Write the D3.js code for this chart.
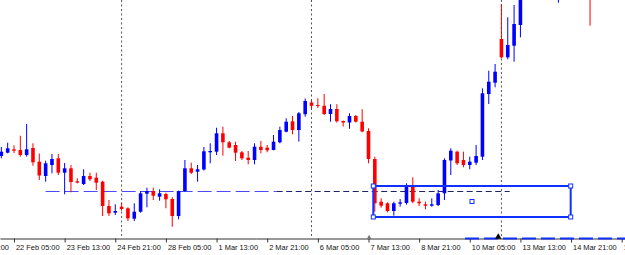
<!DOCTYPE html>
<html><head><meta charset="utf-8">
<script src="https://cdn.jsdelivr.net/npm/d3@7"></script>
<style>html,body{margin:0;padding:0;background:#fff;overflow:hidden}svg{display:block}</style>
</head><body><svg id="c" width="625" height="255"></svg>
<script>
// ---- Data (XAUUSD H4, Feb-Mar 2023) ----
const barIndex = [-2,-1,0,1,2,3,4,5,6,7,8,9,10,11,12,13,14,15,16,17,18,19,20,21,22,23,24,25,26,27,28,29,30,31,32,33,34,35,36,37,38,39,40,41,42,43,44,45,46,47,48,49,50,51,52,53,54,55,56,57,58,59,60,61,62,63,64,65,66,67,68,69,70,71,72,73,74,75,76,77,78,79,80,86,91];
const open  = [1832.24,1833.76,1835.32,1835.00,1832.70,1835.92,1829.62,1823.04,1828.10,1831.18,1824.56,1826.58,1820.60,1819.36,1823.04,1822.26,1820.42,1809.24,1806.16,1808.92,1808.18,1803.40,1806.62,1814.90,1816.14,1813.52,1814.76,1812.46,1804.64,1816.14,1826.58,1825.02,1826.03,1833.94,1834.22,1842.68,1838.54,1837.30,1833.94,1831.46,1830.40,1836.52,1836.06,1835.00,1838.54,1843.42,1848.20,1844.20,1851.47,1856.85,1855.70,1855.33,1851.56,1853.86,1848.34,1847.65,1850.64,1848.02,1843.74,1830.86,1811.22,1810.48,1806.94,1810.30,1810.62,1818.44,1811.22,1810.02,1809.38,1809.70,1815.08,1830.17,1834.22,1830.40,1828.10,1829.16,1831.92,1860.76,1865.96,1886.06,1877.64,1882.98,1892.50,1906.00,1912.00];
const high  = [1836.38,1838.36,1837.16,1841.58,1846.96,1838.08,1833.39,1830.08,1833.16,1833.16,1829.02,1828.10,1821.98,1826.12,1824.56,1824.56,1820.88,1812.00,1810.02,1810.76,1808.64,1810.48,1816.14,1817.66,1817.66,1816.92,1815.36,1813.24,1816.30,1830.40,1829.16,1828.10,1836.38,1838.08,1845.26,1845.72,1839.14,1838.82,1834.54,1834.54,1838.08,1839.14,1837.30,1841.90,1845.72,1849.58,1850.64,1852.48,1858.69,1858.00,1858.78,1860.76,1856.07,1856.07,1848.57,1851.88,1851.10,1853.77,1844.98,1831.92,1812.78,1810.94,1811.22,1812.46,1819.68,1822.44,1812.78,1811.22,1812.78,1816.60,1831.18,1835.78,1834.68,1834.22,1831.92,1837.30,1863.38,1871.48,1874.56,1902.16,1896.04,1901.70,1912.00,1914.00,1914.00];
const low   = [1831.18,1833.48,1833.62,1831.92,1831.92,1827.78,1821.20,1820.42,1824.28,1823.50,1814.62,1815.54,1819.68,1818.90,1820.74,1816.60,1804.64,1804.64,1805.10,1807.08,1802.34,1802.34,1806.16,1808.64,1812.00,1811.68,1808.18,1799.72,1803.12,1815.82,1823.96,1820.42,1825.57,1828.88,1832.70,1832.38,1835.78,1829.94,1830.40,1828.42,1828.42,1833.48,1833.94,1834.86,1838.08,1843.14,1842.22,1838.82,1850.32,1853.86,1854.32,1851.10,1848.02,1847.65,1845.81,1844.75,1847.65,1843.14,1828.88,1806.62,1808.46,1806.34,1804.78,1808.92,1809.84,1810.48,1809.24,1807.72,1808.92,1809.24,1812.00,1823.50,1828.10,1827.04,1826.12,1828.10,1830.40,1856.16,1863.84,1877.18,1876.72,1875.62,1886.84,1902.76,1892.18];
const close = [1834.22,1835.78,1834.68,1832.70,1835.32,1829.34,1823.27,1828.88,1830.86,1824.56,1826.58,1820.28,1819.96,1823.04,1821.52,1819.96,1809.24,1805.88,1806.94,1807.86,1803.58,1806.62,1815.08,1816.14,1813.98,1815.08,1812.32,1804.64,1816.14,1826.58,1824.56,1826.12,1834.40,1834.54,1842.68,1838.54,1836.06,1833.76,1831.18,1830.40,1836.52,1835.00,1834.86,1838.82,1844.20,1848.02,1844.20,1851.88,1857.54,1855.33,1855.24,1851.56,1853.86,1848.20,1847.65,1850.64,1848.02,1843.51,1830.86,1810.48,1809.38,1806.94,1810.48,1810.94,1818.90,1811.22,1810.48,1809.38,1810.02,1815.08,1830.40,1834.68,1828.88,1828.10,1829.62,1832.24,1861.08,1866.42,1871.02,1877.64,1883.30,1892.96,1908.00,1912.00,1905.00];

const tickIndex  = [-8,0,8,16,24,32,40,48,56,64,72,80,88,96];
const tickLabels = ["20 Feb 21:00","22 Feb 05:00","23 Feb 13:00","24 Feb 21:00","28 Feb 05:00","1 Mar 13:00","2 Mar 21:00","6 Mar 05:00","7 Mar 13:00","8 Mar 21:00","10 Mar 05:00","13 Mar 13:00","14 Mar 21:00","16 Mar 05:00"];
const separatorIndex = [17,47,77];

// drawn objects (bar index / price)
const levelPrice = 1815.91;
const levelBlueSpan = [5, 41.5];
const levelDarkSpan = [41.5, 78.3];
const rectSpan = [56.76, 87.94];
const rectPrices = [1818.44, 1804.18];
const lowerLinePrice = 1794.29;
const lowerLineStart = 71.24;

// ---- Layout ----
const W = 625, H = 255, axisY = 238.5;
const svg = d3.select("#c");
const x = d3.scaleLinear().domain([-2.21, 96.52]).range([0, W]);
const y = d3.scaleLinear().domain([1793.6, 1904]).range([240, 0]);
const UP = "#0000ff", DN = "#ff0000";

const bars = barIndex.map((k,i)=>({k, o:open[i], h:high[i], l:low[i], c:close[i]}));

// separators
svg.append("g").selectAll("line").data(separatorIndex).join("line")
  .attr("x1", d=>x(d)).attr("x2", d=>x(d)).attr("y1", 0).attr("y2", axisY)
  .attr("stroke", "#555").attr("stroke-width", 1).attr("stroke-dasharray", "2,2.5");

// level line
const lv = svg.append("g");
lv.append("line").attr("x1", x(levelBlueSpan[0])).attr("x2", x(levelBlueSpan[1]))
  .attr("y1", y(levelPrice)).attr("y2", y(levelPrice))
  .attr("stroke", "#4a4aff").attr("stroke-width", 1).attr("stroke-dasharray", "14,5");
lv.append("line").attr("x1", x(levelDarkSpan[0])).attr("x2", x(levelDarkSpan[1]))
  .attr("y1", y(levelPrice)).attr("y2", y(levelPrice))
  .attr("stroke", "#22226a").attr("stroke-width", 1).attr("stroke-dasharray", "6,3.5");

// candles
const cg = svg.append("g");
const bw = 3.6;
cg.selectAll("line").data(bars).join("line")
  .attr("x1", d=>x(d.k)).attr("x2", d=>x(d.k))
  .attr("y1", d=>y(d.h)).attr("y2", d=>y(d.l))
  .attr("stroke", d=>d.c>=d.o?UP:DN).attr("stroke-width", 1);
cg.selectAll("rect").data(bars).join("rect")
  .attr("x", d=>x(d.k)-bw/2).attr("width", bw)
  .attr("y", d=>y(Math.max(d.o,d.c)))
  .attr("height", d=>Math.max(1, Math.abs(y(d.o)-y(d.c))))
  .attr("fill", d=>d.c>=d.o?UP:DN);

// rectangle object
const rg = svg.append("g");
const rx0 = x(rectSpan[0]), rx1 = x(rectSpan[1]), ry0 = y(rectPrices[0]), ry1 = y(rectPrices[1]);
rg.append("rect").attr("x", rx0).attr("y", ry0).attr("width", rx1-rx0).attr("height", ry1-ry0)
  .attr("fill", "none").attr("stroke", "#1030ff").attr("stroke-width", 2);
const handles = [[rx0,ry0],[rx1,ry0],[rx0,ry1],[rx1,ry1],[(rx0+rx1)/2,(ry0+ry1)/2]];
rg.selectAll("rect.h").data(handles).join("rect").attr("class","h")
  .attr("x", d=>d[0]-2).attr("y", d=>d[1]-2).attr("width", 4).attr("height", 4)
  .attr("fill", "#fff").attr("stroke", "#1030ff").attr("stroke-width", 1);

// axis
const ax = svg.append("g").attr("transform", `translate(0,${axisY})`)
  .call(d3.axisBottom(x).tickValues(tickIndex).tickFormat((d,i)=>tickLabels[i]).tickSize(4).tickSizeOuter(0));
ax.select(".domain").attr("stroke", "#333");
ax.selectAll(".tick line").attr("stroke", "#333");
ax.selectAll(".tick text").attr("text-anchor", "start").attr("x", 1.5).attr("y", 11.5).attr("dy", 0)
  .attr("fill", "#111").style("font-family", "'Liberation Sans', Arial, sans-serif").style("font-size", "7.4px");

// lower dashed line
svg.append("line").attr("x1", x(lowerLineStart)).attr("x2", W)
  .attr("y1", y(lowerLinePrice)).attr("y2", y(lowerLinePrice))
  .attr("stroke", "#1030ff").attr("stroke-width", 2).attr("stroke-dasharray", "14,5");

// markers on the time axis
const mk = svg.append("g");
mk.append("path").attr("d", d3.symbol(d3.symbolTriangle, 18)()).attr("transform", `translate(${x(76.5)},${axisY-1.5})`).attr("fill", "#000");
mk.append("path").attr("d", d3.symbol(d3.symbolTriangle, 10)()).attr("transform", `translate(${x(56.1)},${axisY-1})`).attr("fill", "#777");
</script></body></html>
